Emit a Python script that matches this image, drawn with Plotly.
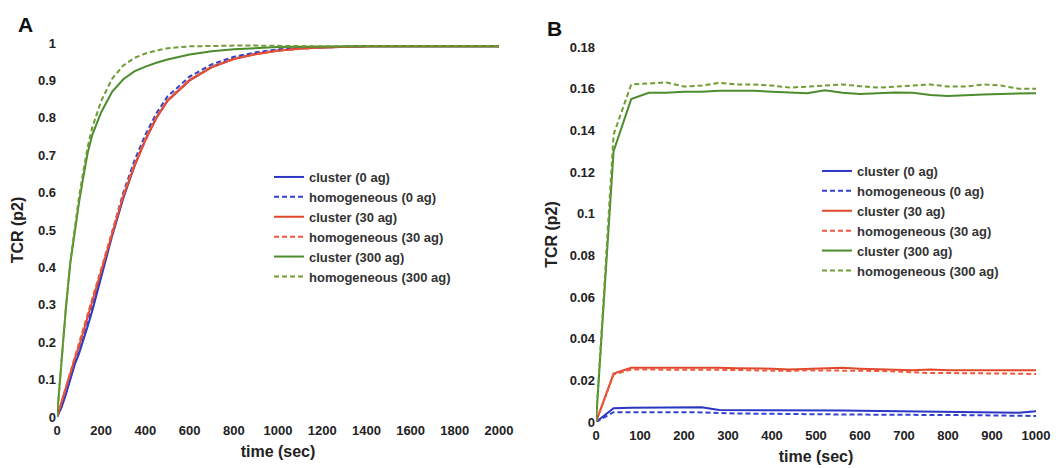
import plotly.graph_objects as go

# ---------------- Panel A data ----------------
tA = [0, 20, 40, 60, 80, 100, 120, 140, 160, 200, 250, 300, 350, 400, 450, 500,
      600, 700, 800, 900, 1000, 1100, 1200, 1400, 1600, 1800, 2000]
a_cluster0 = [0, 0.025, 0.06, 0.10, 0.14, 0.17, 0.205, 0.245, 0.285, 0.375, 0.485, 0.585, 0.67, 0.742,
              0.80, 0.846, 0.90, 0.936, 0.958, 0.971, 0.98, 0.985, 0.988, 0.991, 0.991, 0.991, 0.991]
a_homog0 = [0, 0.027, 0.063, 0.103, 0.143, 0.175, 0.212, 0.253, 0.295, 0.385, 0.495, 0.60, 0.685, 0.755,
            0.812, 0.857, 0.91, 0.943, 0.963, 0.975, 0.983, 0.987, 0.989, 0.991, 0.991, 0.991, 0.991]
a_cluster30 = [0, 0.04, 0.08, 0.12, 0.155, 0.19, 0.23, 0.27, 0.31, 0.39, 0.495, 0.59, 0.67, 0.74,
               0.80, 0.845, 0.90, 0.935, 0.957, 0.97, 0.979, 0.985, 0.988, 0.991, 0.991, 0.991, 0.991]
a_homog30 = [0, 0.04, 0.08, 0.12, 0.158, 0.193, 0.233, 0.273, 0.313, 0.395, 0.50, 0.595, 0.675, 0.745,
             0.803, 0.848, 0.902, 0.937, 0.958, 0.971, 0.98, 0.985, 0.988, 0.991, 0.991, 0.991, 0.991]
a_cluster300 = [0, 0.15, 0.29, 0.41, 0.50, 0.575, 0.645, 0.71, 0.755, 0.815, 0.87, 0.903, 0.924, 0.937,
                0.947, 0.956, 0.969, 0.978, 0.983, 0.987, 0.989, 0.990, 0.991, 0.991, 0.991, 0.991, 0.991]
a_homog300 = [0, 0.15, 0.29, 0.415, 0.51, 0.59, 0.66, 0.725, 0.775, 0.845, 0.905, 0.94, 0.96, 0.972,
              0.98, 0.986, 0.991, 0.993, 0.993, 0.993, 0.992, 0.992, 0.991, 0.991, 0.991, 0.991, 0.991]

# ---------------- Panel B data ----------------
tB = [0, 40, 80, 120, 160, 200, 240, 280, 320, 360, 400, 440, 480, 520, 560, 600,
      640, 680, 720, 760, 800, 840, 880, 920, 960, 1000]
b_cluster0 = [0, 0.0066, 0.0068, 0.0068, 0.0068, 0.0068, 0.0071, 0.0058, 0.0058, 0.0058, 0.0058, 0.0057,
              0.0057, 0.0056, 0.0055, 0.0054, 0.0053, 0.0053, 0.0052, 0.0050, 0.0049, 0.0050, 0.0049,
              0.0045, 0.0045, 0.0052]
b_homog0 = [0, 0.0047, 0.0047, 0.0048, 0.0048, 0.0047, 0.0046, 0.0042, 0.0041, 0.0040, 0.0040, 0.0039,
            0.0038, 0.0037, 0.0036, 0.0036, 0.0036, 0.0035, 0.0035, 0.0034, 0.0033, 0.0033, 0.0032,
            0.0031, 0.0030, 0.0029]
b_cluster30 = [0, 0.0232, 0.026, 0.026, 0.0262, 0.0262, 0.026, 0.026, 0.0258, 0.0258, 0.0256, 0.0252,
               0.0255, 0.0255, 0.026, 0.0256, 0.0253, 0.025, 0.0248, 0.0252, 0.0248, 0.0248, 0.0248,
               0.0248, 0.0248, 0.0248]
b_homog30 = [0, 0.0228, 0.0252, 0.0252, 0.0252, 0.0252, 0.025, 0.025, 0.025, 0.0248, 0.0245, 0.0245,
             0.0248, 0.0248, 0.0247, 0.0245, 0.0245, 0.0243, 0.0238, 0.0235, 0.0235, 0.0235, 0.0235,
             0.0233, 0.0232, 0.023]
b_cluster300 = [0, 0.130, 0.155, 0.158, 0.158, 0.1585, 0.1585, 0.159, 0.159, 0.159, 0.1585, 0.158,
                0.1578, 0.1592, 0.158, 0.1575, 0.158, 0.1582, 0.158, 0.157, 0.1565, 0.157, 0.1572,
                0.1575, 0.1575, 0.1578]
b_homog300 = [0, 0.138, 0.162, 0.1625, 0.163, 0.161, 0.1615, 0.1628, 0.162, 0.162, 0.1615, 0.1605,
              0.161, 0.1612, 0.162, 0.1612, 0.1605, 0.161, 0.1615, 0.162, 0.161, 0.161, 0.162,
              0.1615, 0.160, 0.160]

names = ["cluster (0 ag)", "homogeneous (0 ag)", "cluster (30 ag)",
         "homogeneous (30 ag)", "cluster (300 ag)", "homogeneous (300 ag)"]
colors = ["#2b36c4", "#3341cc", "#e2472b", "#ea5a3c", "#4b8c2c", "#6f9c34"]
dashes = ["solid", "5px,3px", "solid", "5px,3px", "solid", "5px,3px"]

A_series = [a_cluster0, a_homog0, a_cluster30, a_homog30, a_cluster300, a_homog300]
B_series = [b_cluster0, b_homog0, b_cluster30, b_homog30, b_cluster300, b_homog300]

fig = go.Figure()
for i in range(6):
    fig.add_trace(go.Scatter(x=tA, y=A_series[i], mode="lines", name="<b>%s</b>" % names[i],
                             line=dict(color=colors[i], width=2, dash=dashes[i]),
                             xaxis="x", yaxis="y", legend="legend"))
for i in range(6):
    fig.add_trace(go.Scatter(x=tB, y=B_series[i], mode="lines", name="<b>%s</b>" % names[i],
                             line=dict(color=colors[i], width=2, dash=dashes[i]),
                             xaxis="x2", yaxis="y2", legend="legend2"))

W, H = 1061, 468
FONT = "Liberation Sans, Arial, sans-serif"
tickfont = dict(family=FONT, size=13, color="#222222")
titlefont = dict(family=FONT, size=16, color="#222222")
legfont = dict(family=FONT, size=13, color="#333333")

def px_x(p):
    return p / W

def px_y(p):
    return 1 - p / H

axis_common = dict(showgrid=False, zeroline=False, showline=False, ticks="",
                   tickfont=tickfont, automargin=False)

fig.update_layout(
    width=W, height=H,
    autosize=False,
    margin=dict(l=0, r=0, t=0, b=0, pad=0),
    paper_bgcolor="white", plot_bgcolor="white",
    xaxis=dict(domain=[px_x(57), px_x(499)], range=[0, 2000], tickvals=list(range(0, 2001, 200)),
               ticktext=["<b>%d</b>" % v for v in range(0, 2001, 200)],
               ticklabelstandoff=4,
               title=dict(text="<b>time (sec)</b>", font=titlefont, standoff=8),
               anchor="y", **axis_common),
    yaxis=dict(domain=[px_y(417), px_y(43)], range=[0, 1],
               tickvals=[i / 10 for i in range(11)],
               ticktext=["<b>%s</b>" % s for s in ["0", "0.1", "0.2", "0.3", "0.4", "0.5", "0.6", "0.7", "0.8", "0.9", "1"]],
               title=dict(text="<b>TCR (p2)</b>", font=titlefont, standoff=10),
               anchor="x", **axis_common),
    xaxis2=dict(domain=[px_x(596), px_x(1036)], range=[0, 1000], tickvals=list(range(0, 1001, 100)),
                ticktext=["<b>%d</b>" % v for v in range(0, 1001, 100)],
                ticklabelstandoff=4,
                title=dict(text="<b>time (sec)</b>", font=titlefont, standoff=8),
                anchor="y2", **axis_common),
    yaxis2=dict(domain=[px_y(422), px_y(47)], range=[0, 0.18],
                tickvals=[i * 0.02 for i in range(10)],
                ticktext=["<b>%s</b>" % s for s in ["0", "0.02", "0.04", "0.06", "0.08", "0.1", "0.12", "0.14", "0.16", "0.18"]],
                title=dict(text="<b>TCR (p2)</b>", font=titlefont, standoff=8),
                anchor="x2", **axis_common),
    legend=dict(x=px_x(269), y=px_y(162), xanchor="left", yanchor="top",
                bgcolor="rgba(0,0,0,0)", font=legfont, tracegroupgap=0),
    legend2=dict(x=px_x(817), y=px_y(156), xanchor="left", yanchor="top",
                 bgcolor="rgba(0,0,0,0)", font=legfont, tracegroupgap=0),
    annotations=[
        dict(text="<b>A</b>", x=px_x(25), y=px_y(24), xref="paper", yref="paper",
             xanchor="center", yanchor="middle",
             showarrow=False, font=dict(family=FONT, size=21, color="#111111")),
        dict(text="<b>B</b>", x=px_x(554), y=px_y(28), xref="paper", yref="paper",
             xanchor="center", yanchor="middle",
             showarrow=False, font=dict(family=FONT, size=21, color="#111111")),
    ],
    showlegend=True,
)

fig.write_html("out.html")
